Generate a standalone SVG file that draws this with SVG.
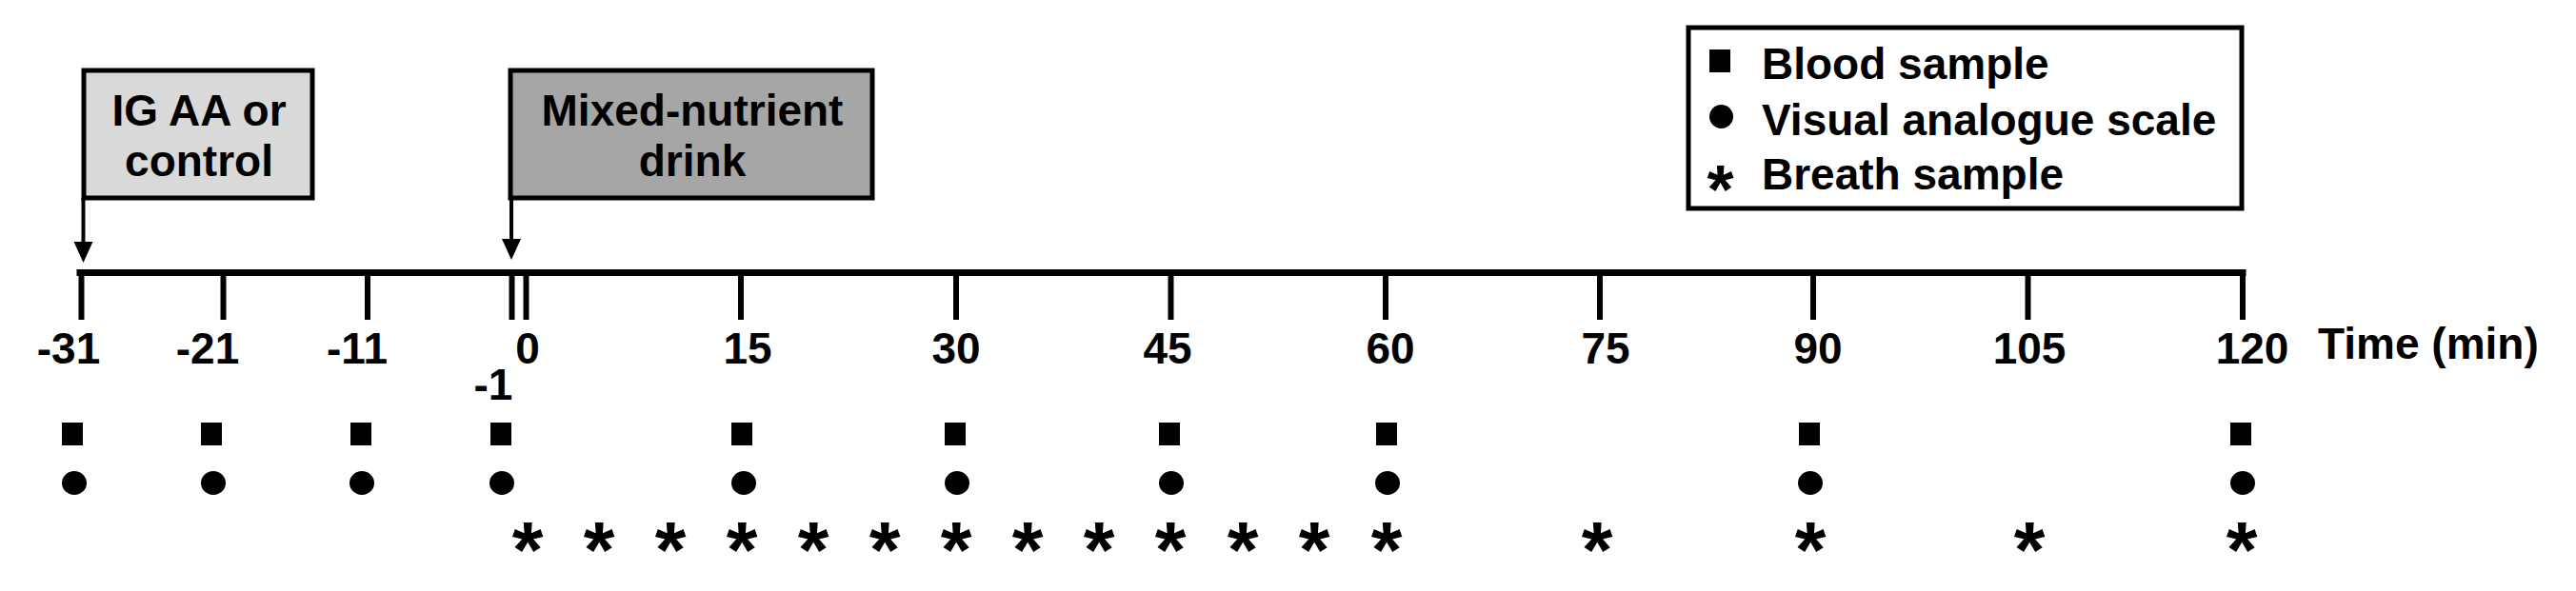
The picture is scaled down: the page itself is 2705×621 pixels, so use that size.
<svg xmlns="http://www.w3.org/2000/svg" width="2705" height="621" viewBox="0 0 2705 621">
<style>
text{font-family:"Liberation Sans",Arial,sans-serif;font-weight:bold;fill:#000}
.lbl{font-size:46px;text-anchor:middle}
.leg{font-size:46px}
.ast{font-size:84px;text-anchor:middle}
.box{stroke:#000;stroke-width:5}
.tick{stroke:#000;stroke-width:6}
.conn{stroke:#000;stroke-width:4;fill:none}
</style>
<defs>
<path id="tri" d="M-10,-22 L10,-22 L0,0 Z" fill="#000"/>
</defs>
<rect width="2705" height="621" fill="#fff"/>

<g id="box-ig">
<rect class="box" x="88" y="74" width="240" height="134" fill="#d9d9d9"/>
<text class="lbl" x="209" y="132">IG AA or</text>
<text class="lbl" x="209" y="185">control</text>
</g>

<g id="box-drink">
<rect class="box" x="536" y="74" width="380" height="134" fill="#a6a6a6"/>
<text class="lbl" x="727" y="132">Mixed-nutrient</text>
<text class="lbl" x="727" y="185">drink</text>
</g>

<g id="connectors">
<line class="conn" x1="87.5" y1="208" x2="87.5" y2="256"/>
<use href="#tri" x="87.5" y="276"/>
<line class="conn" x1="537" y1="208" x2="537" y2="253"/>
<use href="#tri" x="537" y="273"/>
</g>

<g id="legend">
<rect x="1773" y="29" width="581" height="190" fill="#fff" stroke="#000" stroke-width="5"/>
<rect x="1795" y="52" width="22" height="24" fill="#000"/>
<ellipse cx="1807.5" cy="122.5" rx="12.5" ry="12.5" fill="#000"/>
<text class="ast" style="font-size:72px" x="1806.5" y="224">*</text>
<text class="leg" x="1850" y="83">Blood sample</text>
<text class="leg" x="1850" y="142">Visual analogue scale</text>
<text class="leg" x="1850" y="199">Breath sample</text>
</g>

<g id="axis">
<line x1="80.5" y1="286.5" x2="2358.5" y2="286.5" stroke="#000" stroke-width="7"/>
<line class="tick" x1="85.5" y1="286" x2="85.5" y2="336"/>
<line class="tick" x1="234.5" y1="286" x2="234.5" y2="336"/>
<line class="tick" x1="386" y1="286" x2="386" y2="336"/>
<line class="tick" x1="537.5" y1="286" x2="537.5" y2="336"/>
<line class="tick" x1="552.5" y1="286" x2="552.5" y2="336"/>
<line class="tick" x1="778" y1="286" x2="778" y2="336"/>
<line class="tick" x1="1004" y1="286" x2="1004" y2="336"/>
<line class="tick" x1="1229.5" y1="286" x2="1229.5" y2="336"/>
<line class="tick" x1="1455" y1="286" x2="1455" y2="336"/>
<line class="tick" x1="1680" y1="286" x2="1680" y2="336"/>
<line class="tick" x1="1904" y1="286" x2="1904" y2="336"/>
<line class="tick" x1="2129.5" y1="286" x2="2129.5" y2="336"/>
<line class="tick" x1="2355" y1="283" x2="2355" y2="336"/>
</g>

<g id="time-labels">
<text class="lbl" x="72" y="382">-31</text>
<text class="lbl" x="218" y="382">-21</text>
<text class="lbl" x="375" y="382">-11</text>
<text class="lbl" x="554" y="382">0</text>
<text class="lbl" x="518" y="420">-1</text>
<text class="lbl" x="785" y="382">15</text>
<text class="lbl" x="1004" y="382">30</text>
<text class="lbl" x="1226" y="382">45</text>
<text class="lbl" x="1460" y="382">60</text>
<text class="lbl" x="1686" y="382">75</text>
<text class="lbl" x="1909" y="382">90</text>
<text class="lbl" x="2131" y="382">105</text>
<text class="lbl" x="2365" y="382">120</text>
<text class="leg" x="2434" y="377">Time (min)</text>
</g>

<g id="blood-samples" fill="#000">
<rect x="65" y="444" width="22" height="24"/>
<rect x="211" y="444" width="22" height="24"/>
<rect x="368" y="444" width="22" height="24"/>
<rect x="515" y="444" width="22" height="24"/>
<rect x="768" y="444" width="22" height="24"/>
<rect x="992" y="444" width="22" height="24"/>
<rect x="1217" y="444" width="22" height="24"/>
<rect x="1445" y="444" width="22" height="24"/>
<rect x="1889" y="444" width="22" height="24"/>
<rect x="2342" y="444" width="22" height="24"/>
</g>

<g id="vas" fill="#000">
<ellipse cx="78" cy="507.5" rx="13" ry="12.5"/>
<ellipse cx="224" cy="507.5" rx="13" ry="12.5"/>
<ellipse cx="380" cy="507.5" rx="13" ry="12.5"/>
<ellipse cx="527" cy="507.5" rx="13" ry="12.5"/>
<ellipse cx="781" cy="507.5" rx="13" ry="12.5"/>
<ellipse cx="1005" cy="507.5" rx="13" ry="12.5"/>
<ellipse cx="1230" cy="507.5" rx="13" ry="12.5"/>
<ellipse cx="1457" cy="507.5" rx="13" ry="12.5"/>
<ellipse cx="1901" cy="507.5" rx="13" ry="12.5"/>
<ellipse cx="2355" cy="507.5" rx="13" ry="12.5"/>
</g>

<g id="breath-samples">
<text class="ast" x="554" y="607">*</text>
<text class="ast" x="629" y="607">*</text>
<text class="ast" x="704" y="607">*</text>
<text class="ast" x="779" y="607">*</text>
<text class="ast" x="854" y="607">*</text>
<text class="ast" x="929" y="607">*</text>
<text class="ast" x="1004" y="607">*</text>
<text class="ast" x="1079" y="607">*</text>
<text class="ast" x="1154" y="607">*</text>
<text class="ast" x="1229" y="607">*</text>
<text class="ast" x="1305" y="607">*</text>
<text class="ast" x="1380" y="607">*</text>
<text class="ast" x="1456" y="607">*</text>
<text class="ast" x="1677" y="607">*</text>
<text class="ast" x="1901" y="607">*</text>
<text class="ast" x="2131" y="607">*</text>
<text class="ast" x="2354" y="607">*</text>
</g>
</svg>
